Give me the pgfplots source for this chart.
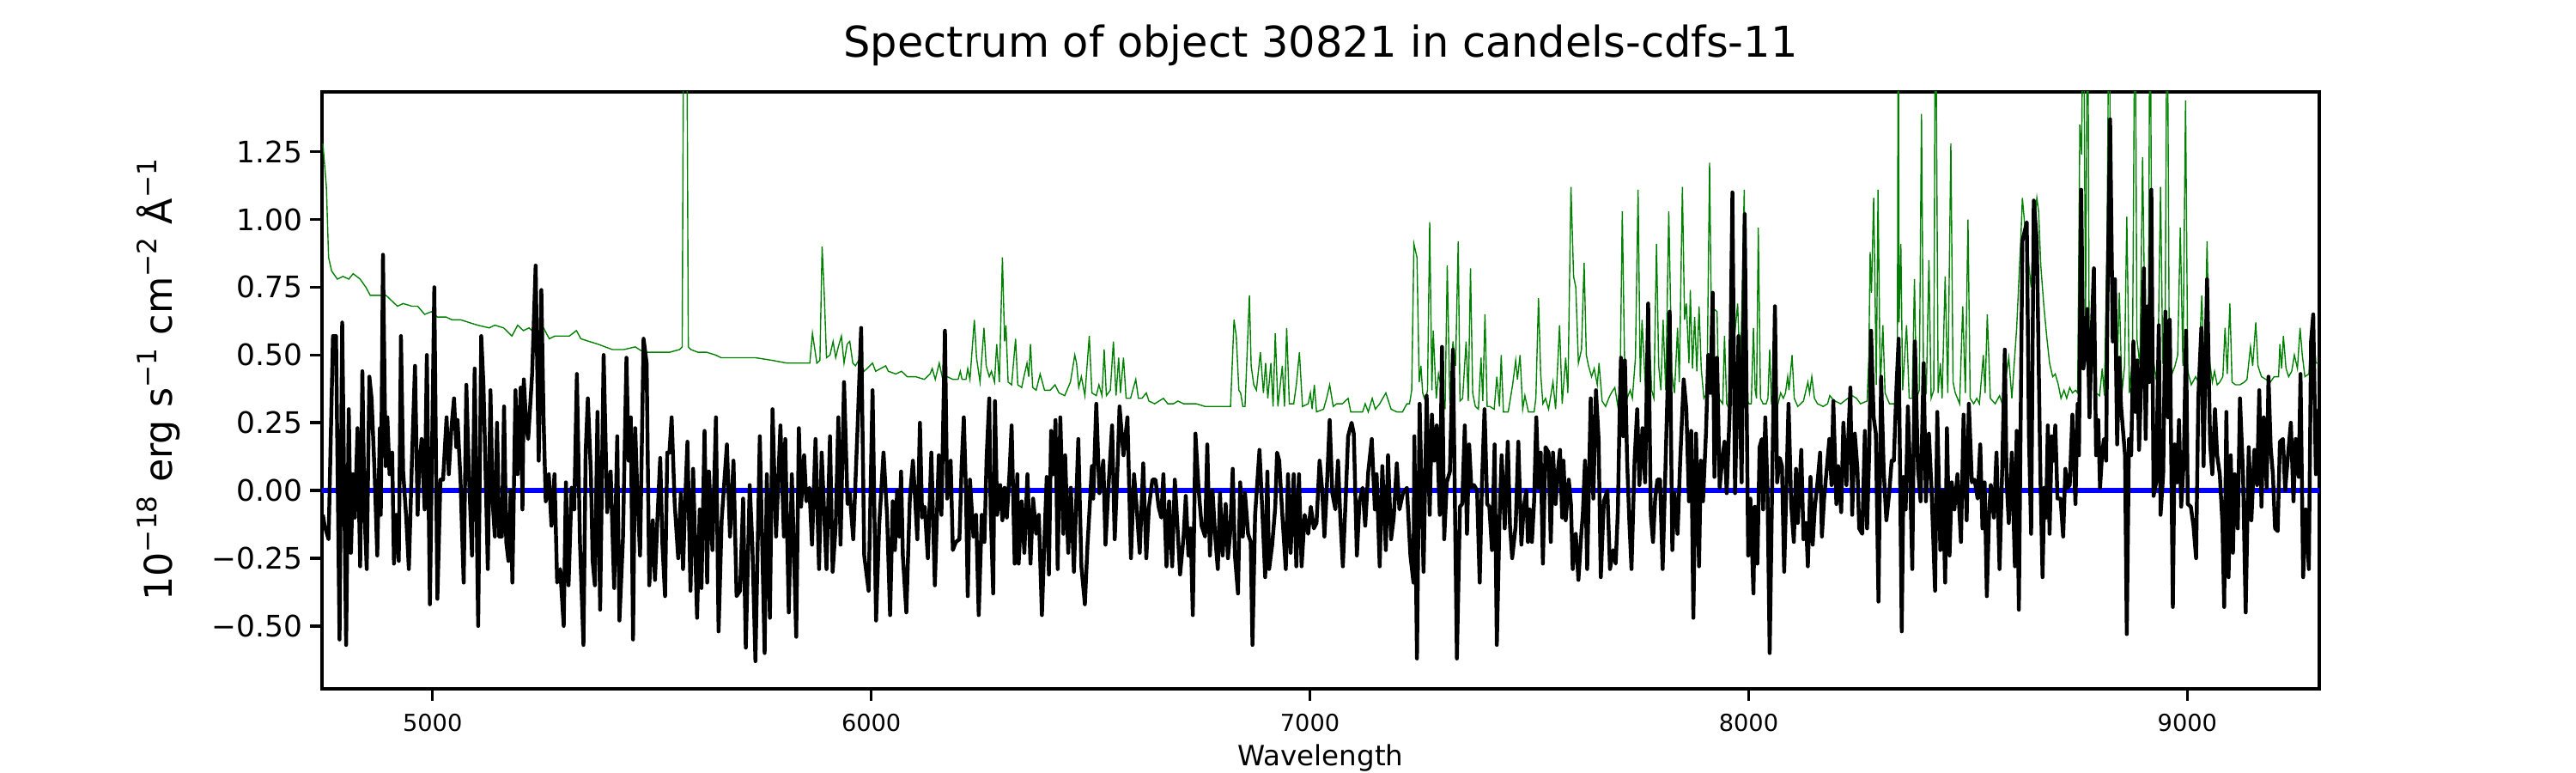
\documentclass[border=0pt]{standalone}
\usepackage{fontspec}
\setmainfont{DejaVu Sans}
\usepackage{pgfplots}
\pgfplotsset{compat=1.18}
\usepackage{pgfplotstable}
\pgfplotstableread{
x y
4750 -0.09
4754 -0.13
4763 -0.18
4773 0.57
4780 0.57
4788 -0.55
4794 0.62
4803 -0.57
4809 0.30
4814 -0.23
4819 0.06
4823 -0.10
4829 0.23
4835 -0.28
4840 0.44
4845 -0.09
4850 -0.29
4856 0.42
4861 0.34
4868 0.06
4874 -0.24
4880 0.23
4882 -0.09
4887 0.87
4893 0.09
4897 0.27
4902 0.06
4908 0.14
4912 -0.27
4917 -0.09
4923 -0.26
4928 0.57
4933 0.07
4940 -0.10
4946 -0.29
4953 0.11
4960 0.46
4966 -0.09
4969 0.06
4975 0.19
4982 -0.07
4987 0.50
4994 -0.42
5004 0.75
5011 -0.40
5018 0.04
5024 0.04
5032 0.27
5037 0.06
5043 0.23
5049 0.34
5054 0.16
5057 0.26
5064 0.03
5067 -0.14
5071 -0.34
5077 0.39
5083 0.06
5090 -0.24
5096 0.45
5104 -0.50
5111 0.57
5116 0.39
5119 0.20
5126 -0.29
5132 0.37
5137 -0.04
5142 -0.17
5147 0.25
5152 -0.17
5158 -0.17
5163 0.31
5168 -0.19
5173 -0.26
5178 0.00
5182 -0.34
5189 0.37
5194 0.06
5201 0.38
5205 -0.07
5208 0.41
5214 0.23
5218 0.19
5227 0.43
5235 0.83
5242 0.11
5248 0.74
5253 0.27
5258 -0.04
5265 0.06
5271 -0.13
5278 0.06
5284 -0.34
5291 -0.29
5299 -0.50
5304 0.03
5310 -0.35
5317 0.01
5323 -0.07
5329 0.43
5336 -0.19
5344 -0.57
5349 0.14
5354 0.34
5361 0.06
5365 -0.26
5370 -0.35
5376 0.29
5382 -0.44
5390 0.50
5398 -0.08
5406 0.07
5414 -0.36
5421 0.20
5426 -0.48
5434 -0.18
5442 0.49
5447 0.11
5452 0.27
5457 -0.55
5462 0.23
5466 0.03
5473 -0.24
5481 0.56
5488 0.47
5494 -0.35
5502 -0.11
5507 -0.33
5513 -0.09
5519 0.12
5524 -0.20
5530 -0.39
5535 0.14
5540 0.14
5545 0.27
5552 -0.05
5560 -0.25
5566 -0.01
5571 -0.29
5576 -0.03
5581 0.18
5588 -0.37
5594 0.08
5603 -0.47
5609 -0.07
5613 -0.36
5620 0.22
5626 -0.34
5630 0.07
5638 -0.22
5646 0.27
5652 -0.52
5659 -0.11
5671 0.17
5678 -0.17
5686 0.11
5693 -0.39
5701 -0.37
5708 -0.03
5714 -0.58
5723 0.02
5729 -0.20
5736 -0.63
5746 0.20
5757 -0.60
5762 0.06
5769 -0.47
5775 0.30
5783 -0.17
5793 0.24
5801 -0.17
5804 0.19
5812 -0.45
5819 0.06
5829 -0.54
5835 0.23
5840 -0.06
5847 0.13
5852 -0.04
5859 0.01
5865 -0.20
5873 0.19
5881 -0.29
5887 0.14
5898 -0.29
5906 0.20
5912 -0.30
5919 -0.13
5925 0.27
5930 -0.20
5938 0.40
5946 -0.05
5951 -0.01
5959 -0.18
5969 0.24
5977 0.60
5984 -0.24
5994 -0.37
6003 0.37
6011 -0.48
6018 -0.13
6028 0.14
6036 -0.09
6043 -0.46
6049 -0.04
6054 -0.22
6059 0.00
6064 -0.17
6068 0.07
6072 -0.24
6080 -0.45
6088 -0.03
6095 0.11
6100 -0.03
6105 -0.18
6111 0.25
6116 -0.10
6122 -0.06
6129 -0.25
6137 0.14
6145 -0.35
6154 0.13
6160 -0.09
6168 0.59
6173 -0.03
6181 0.11
6186 -0.22
6193 -0.19
6201 -0.18
6206 0.09
6211 0.27
6216 -0.01
6220 -0.39
6225 0.04
6233 -0.17
6239 -0.09
6245 -0.46
6252 -0.09
6258 -0.19
6263 0.12
6269 0.34
6272 -0.06
6278 -0.38
6282 0.33
6287 -0.09
6294 0.02
6299 -0.11
6304 0.01
6309 -0.10
6315 0.06
6320 0.24
6327 -0.27
6333 0.06
6336 -0.27
6343 -0.04
6349 -0.23
6356 0.06
6363 -0.27
6369 -0.03
6376 -0.16
6382 -0.09
6389 -0.46
6395 -0.17
6400 0.05
6405 -0.31
6410 0.22
6415 0.06
6420 0.26
6425 -0.29
6431 0.27
6438 -0.16
6442 0.13
6449 -0.23
6455 0.01
6462 -0.30
6472 0.19
6479 -0.28
6487 -0.42
6493 -0.20
6498 -0.06
6503 0.09
6506 -0.03
6513 0.32
6520 -0.01
6529 0.11
6534 -0.20
6540 -0.01
6549 0.24
6555 -0.18
6562 0.11
6566 0.31
6575 0.13
6584 0.27
6592 -0.25
6599 0.06
6605 -0.06
6612 -0.23
6620 0.10
6627 -0.25
6633 -0.06
6641 0.04
6648 0.04
6655 -0.06
6661 -0.10
6666 0.06
6673 -0.28
6679 -0.04
6686 -0.28
6692 0.04
6699 -0.16
6704 -0.31
6712 -0.17
6717 -0.02
6723 -0.24
6728 -0.14
6733 -0.46
6739 0.21
6746 0.01
6753 -0.13
6761 -0.17
6766 0.17
6772 -0.24
6778 0.00
6784 -0.17
6790 -0.29
6795 -0.01
6801 -0.24
6808 -0.05
6813 -0.25
6818 -0.16
6824 0.08
6829 -0.24
6836 -0.38
6841 0.03
6847 -0.17
6852 -0.01
6859 -0.16
6865 -0.19
6869 -0.57
6875 -0.09
6885 0.15
6891 -0.06
6898 -0.32
6903 0.07
6907 -0.29
6914 -0.20
6921 -0.06
6925 0.14
6930 0.11
6937 -0.09
6945 -0.29
6950 0.06
6956 -0.23
6963 0.06
6969 -0.28
6975 0.06
6981 -0.28
6988 -0.09
6996 -0.16
7002 -0.06
7009 -0.14
7015 -0.12
7022 0.11
7028 0.00
7033 -0.17
7038 -0.01
7045 0.26
7051 -0.01
7058 -0.07
7064 0.11
7069 -0.09
7075 -0.28
7082 -0.01
7087 0.20
7095 0.25
7100 0.21
7107 -0.24
7113 -0.04
7120 0.01
7126 -0.13
7133 0.07
7141 0.19
7148 -0.07
7152 0.06
7159 -0.28
7165 0.09
7173 -0.22
7178 0.13
7185 -0.18
7191 -0.10
7198 0.10
7204 -0.07
7212 -0.01
7221 0.01
7229 -0.24
7236 -0.34
7238 0.20
7244 -0.62
7250 0.32
7259 -0.30
7266 0.35
7273 -0.09
7278 0.28
7283 0.11
7289 0.24
7296 -0.09
7301 0.53
7306 -0.18
7312 0.03
7319 0.07
7326 0.52
7335 -0.62
7342 -0.06
7347 -0.05
7353 0.24
7358 -0.16
7363 0.17
7368 0.01
7374 0.02
7381 0.00
7387 -0.34
7392 0.02
7398 0.30
7404 -0.05
7409 -0.06
7415 -0.22
7421 0.17
7426 -0.57
7432 -0.11
7437 0.13
7444 -0.14
7451 0.18
7456 -0.13
7461 -0.25
7469 -0.13
7475 0.18
7482 -0.20
7487 -0.07
7493 0.00
7497 -0.19
7501 -0.07
7506 -0.19
7511 -0.04
7516 0.27
7521 0.01
7526 0.14
7531 -0.27
7537 0.16
7544 0.14
7549 -0.19
7554 0.14
7560 -0.05
7565 0.07
7570 0.15
7575 -0.10
7578 0.11
7583 -0.11
7590 0.04
7595 -0.05
7599 -0.29
7606 -0.16
7612 -0.33
7619 -0.15
7622 -0.09
7627 0.11
7632 -0.29
7640 0.34
7646 -0.03
7652 0.37
7658 0.19
7663 -0.32
7670 -0.04
7678 0.00
7684 -0.29
7691 -0.22
7697 -0.27
7702 -0.07
7706 0.29
7709 0.49
7714 0.20
7718 0.48
7723 0.11
7728 -0.11
7733 -0.29
7740 0.11
7746 0.30
7751 0.02
7758 0.23
7764 0.03
7771 0.69
7777 -0.09
7782 -0.19
7787 -0.03
7792 0.04
7798 0.04
7804 -0.29
7810 0.06
7820 0.66
7826 -0.22
7831 -0.01
7838 -0.16
7844 0.11
7852 0.41
7858 0.30
7864 -0.04
7869 0.22
7874 -0.47
7880 0.21
7887 -0.28
7891 0.11
7896 -0.04
7903 0.22
7908 0.50
7913 0.36
7918 0.73
7922 0.05
7928 0.49
7934 0.01
7939 0.10
7945 0.18
7950 -0.01
7957 0.30
7963 1.10
7969 -0.01
7977 0.57
7984 0.03
7991 1.02
7994 0.56
7999 -0.24
8004 -0.03
8011 -0.38
8014 -0.06
8020 -0.27
8025 0.16
8030 0.19
8033 -0.07
8038 0.27
8043 0.00
8048 -0.60
8054 0.06
8060 0.68
8065 0.03
8071 0.12
8076 0.09
8081 -0.30
8086 0.01
8091 0.32
8097 -0.05
8103 -0.19
8108 0.08
8112 -0.12
8120 0.15
8125 -0.18
8131 -0.12
8135 -0.28
8141 0.05
8146 -0.20
8151 -0.06
8157 0.03
8163 0.14
8167 -0.17
8172 -0.03
8177 0.06
8184 0.19
8189 0.02
8193 0.33
8200 -0.05
8204 0.09
8211 -0.08
8216 0.25
8223 0.02
8227 0.19
8232 0.38
8236 -0.09
8242 0.21
8248 0.08
8252 -0.14
8259 -0.16
8265 0.22
8270 -0.14
8275 0.15
8279 0.59
8285 0.27
8290 0.21
8296 -0.41
8302 0.42
8308 0.07
8314 -0.11
8321 0.00
8326 0.11
8331 0.11
8337 0.38
8342 0.56
8349 -0.52
8353 0.05
8358 -0.07
8363 0.31
8368 0.07
8373 -0.29
8379 0.55
8386 0.08
8392 -0.04
8399 0.47
8404 -0.04
8411 0.21
8417 0.00
8425 -0.37
8430 0.29
8437 -0.22
8443 0.00
8448 -0.34
8452 0.23
8458 -0.24
8463 0.03
8469 -0.07
8476 0.06
8484 -0.19
8490 0.28
8497 -0.11
8502 0.32
8509 0.03
8515 0.04
8522 -0.03
8528 0.17
8533 -0.14
8538 0.03
8543 -0.39
8548 -0.09
8552 0.02
8559 -0.10
8565 0.14
8572 -0.29
8578 0.08
8584 0.52
8588 0.04
8593 -0.12
8600 0.14
8607 -0.28
8611 0.22
8616 -0.44
8624 0.92
8634 0.99
8639 0.20
8644 -0.16
8650 1.07
8657 0.92
8661 0.49
8665 0.06
8670 -0.32
8674 0.01
8678 -0.10
8682 0.24
8686 -0.16
8691 0.20
8695 0.11
8699 0.24
8704 -0.03
8711 -0.03
8717 -0.17
8722 0.08
8727 0.01
8732 0.02
8738 0.28
8745 -0.05
8750 0.32
8753 0.13
8758 1.11
8763 0.45
8768 0.52
8772 0.67
8777 0.27
8783 0.63
8787 0.82
8792 0.13
8797 0.26
8801 0.01
8806 0.14
8810 0.19
8815 0.11
8818 0.70
8824 1.37
8830 0.55
8835 0.78
8840 0.17
8845 0.49
8849 0.31
8858 0.13
8862 -0.53
8867 0.19
8872 0.13
8877 0.55
8882 0.29
8886 0.48
8890 0.15
8896 0.46
8901 0.82
8905 0.19
8910 0.68
8913 0.40
8918 1.11
8923 -0.02
8929 0.03
8935 0.61
8939 -0.09
8945 0.06
8950 0.66
8956 0.27
8960 0.63
8967 -0.43
8971 0.17
8977 0.03
8981 0.26
8986 -0.06
8992 0.11
8997 0.59
9001 -0.05
9008 -0.06
9014 -0.13
9020 -0.25
9025 0.34
9032 0.60
9037 0.09
9045 0.78
9052 0.17
9057 0.06
9063 0.30
9068 0.13
9074 0.06
9080 -0.12
9084 -0.43
9089 0.29
9094 -0.32
9099 0.13
9104 -0.23
9108 0.06
9115 -0.14
9120 0.34
9127 0.06
9133 -0.45
9140 0.16
9146 -0.11
9153 0.15
9159 0.02
9164 0.37
9169 -0.06
9174 0.27
9181 0.01
9185 0.42
9190 0.16
9195 0.06
9200 -0.14
9206 -0.15
9211 0.18
9218 0.19
9223 0.00
9230 0.14
9236 0.25
9242 -0.04
9247 0.19
9254 0.05
9258 0.43
9264 -0.32
9270 -0.07
9277 -0.29
9282 0.55
9287 0.65
9293 0.06
9298 0.30
}\fluxtab
\pgfplotstableread{
x y
4750 1.28
4758 1.12
4763 0.86
4770 0.81
4783 0.78
4796 0.79
4809 0.78
4819 0.80
4835 0.78
4848 0.75
4858 0.72
4874 0.72
4894 0.72
4907 0.70
4920 0.68
4933 0.69
4953 0.68
4966 0.68
4982 0.65
4998 0.66
5011 0.64
5031 0.64
5044 0.63
5064 0.63
5083 0.62
5103 0.61
5129 0.60
5142 0.61
5162 0.60
5181 0.57
5194 0.61
5207 0.59
5220 0.60
5233 0.58
5253 0.60
5266 0.56
5279 0.57
5292 0.57
5312 0.57
5328 0.59
5338 0.56
5357 0.55
5377 0.54
5410 0.52
5436 0.52
5462 0.53
5481 0.51
5514 0.51
5540 0.51
5563 0.52
5569 0.53
5573 2.0
5579 2.0
5583 0.53
5589 0.52
5605 0.51
5625 0.51
5645 0.50
5658 0.49
5677 0.49
5710 0.49
5736 0.49
5775 0.48
5808 0.47
5840 0.47
5860 0.47
5866 0.58
5876 0.47
5883 0.48
5888 0.90
5893 0.72
5898 0.49
5906 0.50
5913 0.55
5919 0.49
5925 0.53
5932 0.57
5938 0.47
5945 0.54
5951 0.55
5958 0.47
5964 0.46
5971 0.48
5984 0.44
6003 0.47
6010 0.44
6033 0.46
6039 0.44
6056 0.43
6069 0.44
6082 0.42
6101 0.42
6121 0.41
6134 0.43
6139 0.45
6146 0.41
6155 0.47
6163 0.41
6173 0.42
6186 0.41
6198 0.41
6203 0.44
6207 0.41
6216 0.41
6220 0.45
6225 0.41
6235 0.63
6240 0.49
6248 0.40
6257 0.60
6262 0.46
6269 0.42
6274 0.44
6281 0.40
6286 0.54
6292 0.40
6299 0.86
6304 0.55
6307 0.61
6312 0.40
6320 0.39
6329 0.56
6334 0.39
6343 0.38
6348 0.42
6355 0.47
6359 0.42
6363 0.54
6368 0.38
6376 0.37
6385 0.43
6395 0.37
6408 0.37
6419 0.39
6428 0.36
6441 0.35
6454 0.40
6464 0.50
6468 0.47
6473 0.38
6479 0.42
6487 0.35
6497 0.57
6503 0.36
6513 0.35
6519 0.39
6526 0.35
6531 0.52
6536 0.35
6545 0.37
6552 0.55
6558 0.35
6564 0.49
6568 0.36
6575 0.49
6581 0.34
6591 0.34
6603 0.41
6609 0.34
6617 0.34
6627 0.36
6633 0.33
6646 0.32
6666 0.34
6676 0.32
6689 0.32
6699 0.33
6712 0.32
6728 0.32
6741 0.32
6761 0.31
6787 0.31
6800 0.31
6819 0.31
6827 0.63
6832 0.57
6838 0.37
6842 0.36
6847 0.31
6852 0.31
6862 0.72
6866 0.46
6872 0.39
6878 0.37
6887 0.51
6894 0.36
6899 0.47
6904 0.34
6911 0.47
6916 0.31
6921 0.58
6927 0.31
6937 0.46
6942 0.31
6947 0.60
6953 0.32
6963 0.32
6969 0.39
6976 0.51
6983 0.31
6996 0.32
7001 0.36
7005 0.30
7010 0.39
7015 0.29
7031 0.30
7038 0.34
7045 0.39
7053 0.31
7061 0.32
7074 0.32
7087 0.34
7093 0.29
7120 0.29
7126 0.32
7133 0.29
7142 0.34
7149 0.30
7159 0.32
7173 0.36
7185 0.30
7198 0.29
7211 0.29
7221 0.32
7227 0.32
7232 0.37
7237 0.91
7244 0.86
7249 0.40
7253 0.46
7257 0.36
7263 0.33
7268 0.37
7273 0.99
7278 0.37
7281 0.59
7288 0.34
7293 0.43
7301 0.37
7308 0.30
7313 0.83
7319 0.32
7326 0.55
7332 0.46
7338 0.92
7342 0.33
7348 0.34
7356 0.55
7361 0.33
7366 0.82
7371 0.36
7377 0.31
7384 0.30
7390 0.49
7394 0.33
7399 0.65
7404 0.31
7410 0.31
7420 0.30
7426 0.42
7432 0.31
7436 0.50
7441 0.29
7452 0.29
7462 0.39
7469 0.48
7473 0.41
7479 0.50
7485 0.30
7490 0.35
7498 0.29
7511 0.29
7515 0.34
7521 0.71
7526 0.43
7531 0.32
7537 0.34
7544 0.30
7554 0.40
7560 0.30
7569 0.61
7575 0.32
7583 0.49
7588 0.36
7595 1.12
7601 0.79
7606 0.75
7612 0.47
7619 0.52
7625 0.84
7630 0.50
7635 0.46
7642 0.42
7648 0.45
7655 0.39
7659 0.47
7666 0.33
7674 0.31
7681 0.34
7687 0.36
7695 0.38
7702 0.31
7707 0.39
7712 1.03
7717 0.50
7723 0.34
7730 0.37
7735 0.34
7742 0.49
7748 1.11
7753 0.40
7757 0.63
7766 0.34
7772 0.63
7779 0.37
7784 0.34
7790 0.91
7795 0.46
7800 0.37
7805 0.63
7811 0.37
7818 1.03
7825 0.43
7831 0.36
7838 0.60
7842 0.40
7849 1.12
7854 0.63
7858 0.69
7864 0.47
7867 0.74
7872 0.45
7877 0.64
7882 0.44
7887 0.68
7892 0.45
7898 0.34
7905 0.36
7911 1.21
7916 0.49
7921 0.67
7928 0.66
7932 0.34
7941 0.32
7945 0.57
7950 0.32
7956 0.30
7962 0.43
7968 0.57
7975 0.69
7981 0.40
7990 1.11
7994 0.34
8001 0.32
8006 0.32
8011 0.60
8015 0.37
8018 0.34
8022 0.97
8027 0.34
8033 0.32
8040 0.32
8044 0.34
8048 0.52
8052 0.32
8060 0.32
8067 0.32
8073 0.36
8079 0.34
8084 0.36
8089 0.42
8092 0.37
8099 0.50
8104 0.34
8112 0.31
8125 0.33
8135 0.40
8139 0.36
8144 0.42
8150 0.34
8157 0.32
8170 0.31
8180 0.32
8185 0.35
8190 0.34
8197 0.33
8210 0.32
8226 0.34
8236 0.35
8246 0.34
8255 0.32
8270 0.33
8274 0.49
8277 0.88
8280 0.73
8285 1.08
8288 0.76
8291 0.39
8295 1.11
8300 0.37
8306 0.61
8311 0.36
8321 0.32
8334 0.32
8339 0.37
8341 2.0
8343 0.62
8347 0.91
8351 0.37
8360 0.61
8366 0.34
8373 0.34
8378 0.78
8383 0.34
8389 0.37
8394 1.39
8399 0.34
8405 0.36
8411 0.85
8416 0.34
8422 0.37
8426 2.0
8432 0.36
8437 0.47
8441 0.34
8448 0.79
8454 0.36
8461 1.28
8466 0.40
8471 0.36
8481 0.32
8488 0.68
8494 0.36
8500 1.00
8505 0.34
8513 0.32
8520 0.34
8526 0.32
8535 0.50
8539 0.36
8544 0.65
8551 0.34
8562 0.32
8572 0.35
8578 0.32
8585 0.40
8593 0.49
8600 0.34
8611 0.60
8621 0.95
8624 1.08
8631 0.95
8644 0.75
8650 0.95
8657 1.08
8661 1.03
8666 0.83
8673 0.68
8680 0.56
8686 0.47
8693 0.42
8699 0.43
8706 0.39
8712 0.34
8719 0.37
8725 0.34
8732 0.38
8738 0.36
8745 0.37
8750 0.36
8755 1.35
8759 1.24
8763 2.0
8768 0.63
8773 2.0
8776 0.60
8781 0.56
8791 0.36
8800 0.35
8806 0.45
8811 0.35
8817 0.92
8822 2.0
8824 1.31
8830 0.78
8836 0.52
8841 0.50
8845 0.73
8851 0.36
8857 0.46
8862 1.01
8868 0.36
8875 0.49
8881 2.0
8885 0.56
8892 0.46
8898 1.23
8905 0.42
8911 0.49
8915 2.0
8918 1.06
8922 0.49
8928 0.42
8933 0.46
8939 1.12
8944 0.47
8949 0.46
8954 2.0
8959 0.46
8965 0.43
8972 0.46
8978 0.50
8984 0.97
8990 0.46
8996 1.44
9001 0.44
9009 0.39
9019 0.42
9025 0.40
9033 0.72
9039 0.43
9045 0.92
9050 0.49
9057 0.40
9062 0.44
9068 0.39
9074 0.40
9081 0.42
9086 0.60
9091 0.43
9097 0.69
9102 0.40
9110 0.39
9120 0.39
9130 0.40
9136 0.41
9144 0.53
9149 0.46
9156 0.62
9161 0.46
9169 0.42
9179 0.41
9189 0.40
9198 0.42
9208 0.42
9211 0.54
9215 0.45
9219 0.57
9225 0.45
9231 0.42
9238 0.44
9244 0.50
9251 0.45
9257 0.60
9262 0.50
9268 0.42
9277 0.43
9282 0.56
9288 0.57
9293 0.47
9298 0.47
}\errtab
\pgfplotstableread{
x y
4748 0
9301 0
}\zerotab
\definecolor{mplgreen}{RGB}{0,128,0}
\definecolor{mplblue}{RGB}{0,0,255}
\begin{document}
\begin{tikzpicture}
\useasboundingbox (0,0) rectangle (1080pt,324pt);
\begin{axis}[
  at={(135pt,35.28pt)}, anchor=south west,
  scale only axis, width=837.4pt, height=250.2pt,
  xmin=4748, xmax=9301, ymin=-0.732, ymax=1.471,
  axis line style={line width=1.25pt},
  tick align=outside, major tick length=5pt,
  tick style={line width=1.25pt, black},
  xtick pos=bottom, ytick pos=left,
  minor tick num=0,
  xtick={5000,6000,7000,8000,9000},
  xticklabels={5000,6000,7000,8000,9000},
  ytick={-0.5,-0.25,0,0.25,0.5,0.75,1,1.25},
  yticklabels={−0.50,−0.25,0.00,0.25,0.50,0.75,1.00,1.25},
  xticklabel style={font=\fontsize{9.8}{11}\selectfont, anchor=base, yshift=-12.7pt},
  yticklabel style={font=\fontsize{12.4}{14}\selectfont, anchor=east, inner sep=0pt, xshift=-3pt},
  title={Spectrum of object 30821 in candels-cdfs-11},
  title style={font=\fontsize{17.8}{20}\selectfont, at={(axis description cs:0.5,1)}, anchor=base, yshift=8.6pt},
  xlabel={Wavelength},
  xlabel style={font=\fontsize{11.7}{14}\selectfont, at={(axis description cs:0.5,0)}, anchor=base, yshift=-32.3pt},
  ylabel={10\textsuperscript{−18} erg s\textsuperscript{−1} cm\textsuperscript{−2} Å\textsuperscript{−1}},
  ylabel style={font=\fontsize{16}{19}\selectfont, at={(axis description cs:-0.07523,0.5187)}, anchor=base, rotate=0},
]
\addplot[mplgreen, line width=0.5pt, no marks] table[x=x, y=y] {\errtab};
\addplot[mplblue, line width=2pt, no marks] table[x=x, y=y] {\zerotab};
\addplot[black, line width=1.6pt, no marks, line join=round] table[x=x, y=y] {\fluxtab};
\end{axis}
\end{tikzpicture}
\end{document}
